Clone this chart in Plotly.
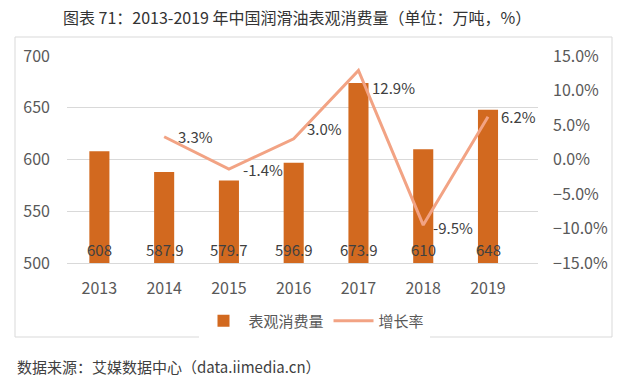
import plotly.graph_objects as go

years = ["2013", "2014", "2015", "2016", "2017", "2018", "2019"]
consumption = [608, 587.9, 579.7, 596.9, 673.9, 610, 648]
growth_years = ["2014", "2015", "2016", "2017", "2018", "2019"]
growth = [3.3, -1.4, 3.0, 12.9, -9.5, 6.2]
growth_text = ["3.3%", "-1.4%", "3.0%", "12.9%", "-9.5%", "6.2%"]

# label offsets (styling only)
lbl_dx = [12, 12, 11, 12, 8, 11]
lbl_dy = [0, 0, 10, -17, -2, 0]

FONT = "Noto Sans CJK SC"
GRAY = "#595959"
Y_MIN, Y_MAX = 500, 700

fig = go.Figure()
fig.add_trace(go.Bar(
    x=years, y=consumption, name="表观消费量",
    marker=dict(color="#D2691F", line=dict(width=0)),
    width=0.31,
    yaxis="y",
))
fig.add_trace(go.Scatter(
    x=growth_years, y=growth, name="增长率", mode="lines",
    line=dict(color="#F2A384", width=3),
    yaxis="y2", cliponaxis=False,
))

# bar value labels at the base of each bar
for i, v in enumerate(consumption):
    fig.add_annotation(x=i, y=Y_MIN, xref="x", yref="y", text=str(v),
                       showarrow=False, yanchor="bottom", yshift=1,
                       font=dict(family=FONT, size=15, color="#404040"))

# growth labels
for yr, g, t, dx, dy in zip(growth_years, growth, growth_text, lbl_dx, lbl_dy):
    fig.add_annotation(x=years.index(yr), y=g, xref="x", yref="y2", text=t,
                       showarrow=False, xanchor="left", yanchor="middle",
                       xshift=dx, yshift=dy,
                       font=dict(family=FONT, size=15, color="#404040"))

fig.update_layout(
    width=640, height=388,
    margin=dict(l=67, r=102, t=56, b=125, autoexpand=False),
    paper_bgcolor="white", plot_bgcolor="white",
    font=dict(family=FONT, size=16, color=GRAY),
    showlegend=True,
    legend=dict(orientation="h", x=(314-67)/471, xanchor="center", xref="paper",
                y=-(321-263)/207, yanchor="middle", font=dict(size=15, color=GRAY),
                itemwidth=40, traceorder="normal"),
    bargap=0.69,
    xaxis=dict(type="category", showgrid=False, showline=True, linecolor="#D9D9D9",
               linewidth=1, ticks="", ticklabelstandoff=11, automargin=False,
               tickfont=dict(size=16, color=GRAY)),
    yaxis=dict(range=[Y_MIN, Y_MAX], dtick=50, showgrid=True, gridcolor="#D9D9D9",
               zeroline=False, showline=False, ticks="", ticklabelstandoff=16,
               automargin=False, tickfont=dict(size=16, color=GRAY)),
    yaxis2=dict(range=[-15, 15], dtick=5, overlaying="y", side="right",
                showgrid=False, zeroline=False, showline=False, ticks="",
                ticksuffix="%", tickformat=".1f", ticklabelstandoff=14,
                automargin=False, tickfont=dict(size=16, color=GRAY)),
)

fig.add_shape(type="rect", xref="paper", yref="paper",
              x0=-52/471, x1=(612-67)/471, y0=-(337-263)/207, y1=(263-37)/207,
              line=dict(color="#D9D9D9", width=1), fillcolor="rgba(0,0,0,0)", layer="below")

fig.add_annotation(text="图表 71：2013-2019 年中国润滑油表观消费量（单位：万吨，%）",
                   xref="paper", yref="paper", x=(297-67)/471, y=(263-17)/207,
                   xanchor="center", yanchor="middle", showarrow=False,
                   font=dict(family=FONT, size=16, color="#333333"))
fig.add_annotation(text="数据来源：艾媒数据中心（data.iimedia.cn）",
                   xref="paper", yref="paper", x=(15-67)/471, y=-(366-263)/207,
                   xanchor="left", yanchor="middle", showarrow=False,
                   font=dict(family=FONT, size=15, color="#404040"))

fig.write_html("out.html", config={"displayModeBar": False},
               post_script="document.body.style.margin='0';")
